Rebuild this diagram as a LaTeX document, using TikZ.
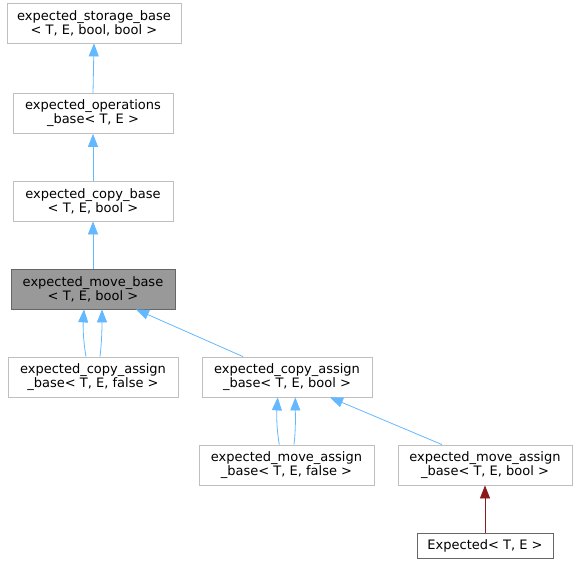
\documentclass[tikz,border=0pt]{standalone}
\usepackage{fontspec}
\setmainfont{DejaVu Sans}
\usetikzlibrary{arrows.meta}
\definecolor{edgeblue}{HTML}{63B8FF}
\definecolor{edgered}{HTML}{8B1A1A}
\definecolor{boxgray}{HTML}{BFBFBF}
\definecolor{hlfill}{HTML}{999999}
\definecolor{hlline}{HTML}{666666}
\tikzset{
  cls/.style={draw=boxgray, fill=white, line width=0.8pt, inner sep=0pt, align=center,
    font=\fontsize{13}{14}\selectfont, minimum height=40pt},
  hl/.style={cls, draw=hlline, fill=hlfill},
  leaf/.style={cls, draw=hlline, minimum height=25pt},
  edge/.style={draw=edgeblue, line width=0.8pt, -{Triangle[length=13pt,width=10pt]}},
  rededge/.style={draw=edgered, line width=0.8pt, -{Triangle[length=13pt,width=10pt]}}
}
\begin{document}
\begin{tikzpicture}[x=1pt,y=-1pt]
\useasboundingbox (0,0) rectangle (578,564);
\node[cls, minimum width=174pt] (n1) at (94,23) {expected\_storage\_base\\< T, E, bool, bool >};
\node[cls, minimum width=160pt] (n2) at (93,113.5) {expected\_operations\\\_base< T, E >};
\node[cls, minimum width=160pt] (n3) at (93,201) {expected\_copy\_base\\< T, E, bool >};
\node[hl, minimum width=164pt] (n4) at (93,289) {expected\_move\_base\\< T, E, bool >};
\node[cls, minimum width=170pt] (n5) at (93,377) {expected\_copy\_assign\\\_base< T, E, false >};
\node[cls, minimum width=170pt] (n6) at (287,377) {expected\_copy\_assign\\\_base< T, E, bool >};
\node[cls, minimum width=175pt] (n7) at (286.5,465) {expected\_move\_assign\\\_base< T, E, false >};
\node[cls, minimum width=174pt] (n8) at (485,465) {expected\_move\_assign\\\_base< T, E, bool >};
\node[leaf, minimum width=136pt] (n9) at (485,545.5) {Expected< T, E >};

\draw[edge] (n2.north) -- (n1.south);
\draw[edge] (n3.north) -- (n2.south);
\draw[edge] (n4.north) -- (n3.south);

\draw[edge] ([xshift=-7pt]n5.north) .. controls +(-3,-17) and +(-1,16) .. ([xshift=-9pt]n4.south);
\draw[edge] ([xshift=7pt]n5.north) .. controls +(2,-17) and +(0,16) .. ([xshift=9pt]n4.south);
\draw[edge] ([xshift=-44pt]n6.north) -- ([xshift=43pt]n4.south);

\draw[edge] ([xshift=-7.2pt]n7.north) .. controls +(-3,-17) and +(-1,16) .. ([xshift=-9.3pt]n6.south);
\draw[edge] ([xshift=7.5pt]n7.north) .. controls +(2,-17) and +(0,16) .. ([xshift=8.3pt]n6.south);
\draw[edge] ([xshift=-43pt]n8.north) -- ([xshift=43pt]n6.south);

\draw[rededge] (n9.north) -- (n8.south);
\end{tikzpicture}
\end{document}
